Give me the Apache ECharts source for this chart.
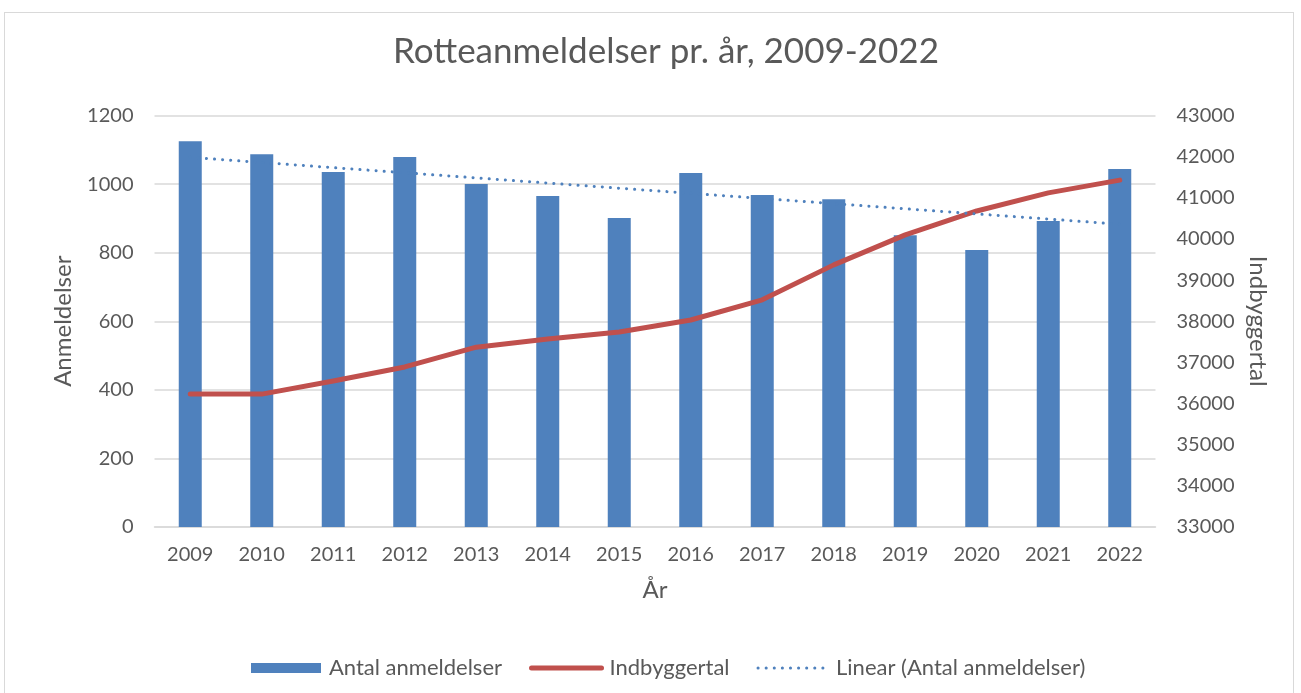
<!DOCTYPE html>
<html>
<head>
<meta charset="utf-8">
<script src="https://cdn.jsdelivr.net/npm/echarts@6/dist/echarts.min.js"></script>
<style>
html,body{margin:0;padding:0;background:#fff;}
#frame{position:absolute;left:4px;top:12px;width:1290px;height:700px;border:1px solid #d9d9d9;box-sizing:border-box;}
#chart{position:absolute;left:0;top:0;width:1301px;height:693px;}
</style>
</head>
<body>
<div id="frame"></div>
<div id="chart"></div>
<script>
const years = ['2009','2010','2011','2012','2013','2014','2015','2016','2017','2018','2019','2020','2021','2022'];
const reports = [1125,1087,1035,1079,1000,965,901,1032,968,956,851,808,892,1044];
const population = [36230,36230,36550,36890,37370,37570,37740,38030,38520,39370,40100,40680,41120,41430];
const trend = [1078,null,null,null,null,null,null,null,null,null,null,null,null,883];

const txt = '#595959';
const font = 'Lato';
const plain = v => String(v);
const chart = echarts.init(document.getElementById('chart'));
chart.setOption({
  animation:false,
  textStyle:{fontFamily:font,color:txt},
  title:{text:'Rotteanmeldelser pr. år, 2009-2022',left:388,top:29,
    textStyle:{fontFamily:font,fontSize:35,fontWeight:'normal',color:txt}},
  grid:{left:154.5,right:145.5,top:115.5,bottom:166},
  legend:{top:652,left:246,itemGap:27,itemWidth:70,itemHeight:10,
    textStyle:{fontFamily:font,fontSize:22,color:txt,padding:[0,0,0,3]},
    data:[
      {name:'Antal anmeldelser',icon:'rect'},
      {name:'Indbyggertal',itemStyle:{color:'rgba(0,0,0,0)',borderWidth:0},lineStyle:{width:5}},
      {name:'Linear (Antal anmeldelser)',itemStyle:{color:'rgba(0,0,0,0)',borderWidth:0},lineStyle:{width:3}}
    ]},
  xAxis:{type:'category',data:years,
    name:'År',nameLocation:'middle',nameGap:51,nameTextStyle:{fontSize:24,color:txt,fontFamily:font},
    axisLine:{show:true,lineStyle:{color:'#d9d9d9',width:1.5}},axisTick:{show:false},
    axisLabel:{fontSize:20,color:txt,margin:18,fontFamily:font}},
  yAxis:[
    {type:'value',min:0,max:1200,interval:200,
     name:'Anmeldelser',nameLocation:'middle',nameGap:79,nameTextStyle:{fontSize:24,color:txt,fontFamily:font},
     axisLabel:{fontSize:20,color:txt,margin:21,fontFamily:font,formatter:plain},
     splitLine:{lineStyle:{color:'#d9d9d9',width:1.5}},axisLine:{show:false},axisTick:{show:false}},
    {type:'value',min:33000,max:43000,interval:1000,position:'right',
     name:'Indbyggertal',nameLocation:'middle',nameGap:89,nameRotate:-90,nameTextStyle:{fontSize:24,color:txt,fontFamily:font},
     axisLabel:{fontSize:20,color:txt,margin:21,fontFamily:font,formatter:plain},
     splitLine:{show:false},axisLine:{show:false},axisTick:{show:false}}
  ],
  series:[
    {name:'Antal anmeldelser',type:'bar',data:reports,barWidth:23,itemStyle:{color:'#4f81bd'},yAxisIndex:0},
    {name:'Indbyggertal',type:'line',data:population,yAxisIndex:1,symbol:'none',
     lineStyle:{color:'#c0504d',width:5,cap:'round',join:'round'},itemStyle:{color:'#c0504d'}},
    {name:'Linear (Antal anmeldelser)',type:'line',data:trend,connectNulls:true,yAxisIndex:0,symbol:'none',
     lineStyle:{color:'#4f81bd',width:3,type:[0.1,8],cap:'round'},itemStyle:{color:'#4f81bd'}}
  ]
});
</script>
</body>
</html>
